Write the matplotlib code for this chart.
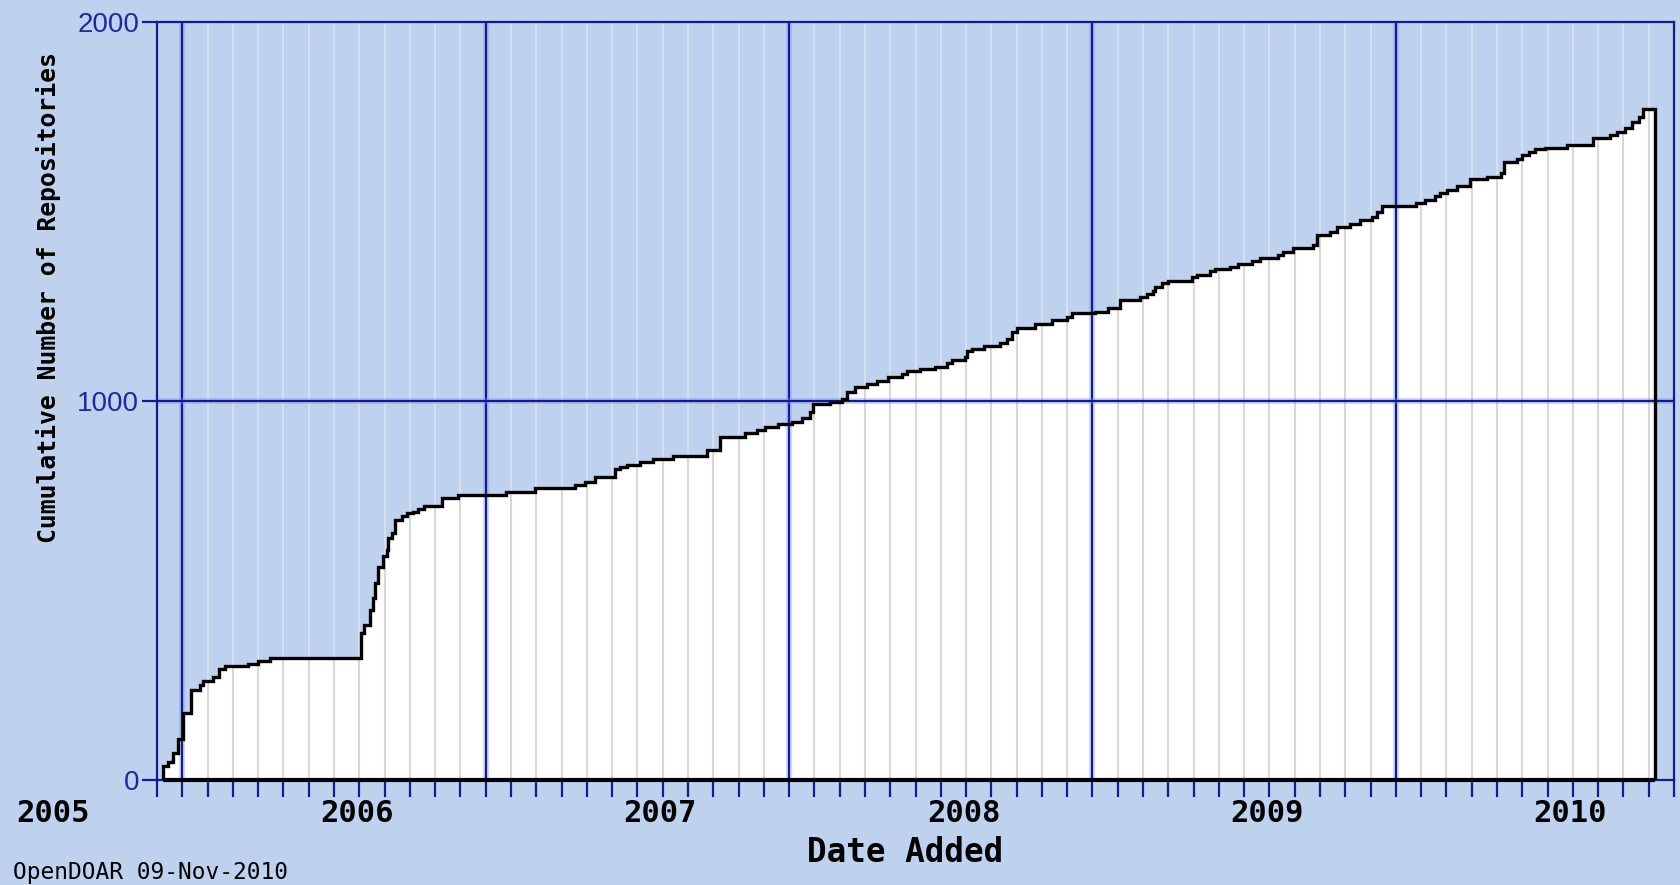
import matplotlib
matplotlib.use('Agg')
import matplotlib.pyplot as plt
import matplotlib.patheffects as pe
from matplotlib.transforms import blended_transform_factory

# ---- data: months since axis start (Jan 2005 at 0) and cumulative count from that point
step_month = [0.22, 0.45, 0.65, 0.84, 1.02, 1.34, 1.70, 1.83, 2.23, 2.45, 2.69, 3.61, 4.01, 4.47,
              8.06, 8.19, 8.43, 8.56, 8.62, 8.75, 8.93, 9.09, 9.15, 9.28, 9.41, 9.68, 9.90, 10.14,
              10.34, 10.57, 11.26, 11.92, 13.80, 14.95, 16.53, 16.93, 17.33, 18.12, 18.31, 18.58,
              19.11, 19.63, 20.42, 21.74, 22.27, 23.26, 23.72, 24.05, 24.58, 25.11, 25.50, 25.83,
              25.96, 26.62, 27.09, 27.28, 27.61, 28.07, 28.47, 28.93, 29.46, 29.66, 30.18, 30.78,
              31.24, 31.44, 31.96, 32.05, 32.23, 32.69, 33.35, 33.61, 33.81, 34.03, 34.73, 35.39,
              35.99, 36.18, 37.10, 37.63, 38.09, 38.88, 39.15, 39.41, 39.48, 39.74, 40.00, 40.93,
              41.13, 41.65, 41.85, 42.44, 42.77, 43.30, 43.63, 44.35, 44.55, 44.95, 45.74, 45.87,
              46.40, 46.66, 47.19, 47.58, 48.05, 48.24, 48.44, 49.80, 50.16, 50.55, 50.75, 51.02,
              51.42, 51.94, 52.62, 53.15, 53.28, 53.78, 53.98, 54.25, 54.51, 54.88, 55.76, 56.79,
              57.48, 57.74, 58.07, 58.33, 58.60, 58.79]
cum_count = [37, 48, 71, 108, 177, 237, 250, 261, 272, 292, 300, 307, 313, 321,
             387, 409, 448, 480, 519, 563, 590, 607, 638, 651, 686, 696, 703, 708,
             716, 723, 745, 753, 760, 769, 778, 787, 798, 820, 826, 831,
             839, 846, 854, 870, 904, 914, 923, 932, 938, 945, 955, 971,
             993, 998, 1004, 1024, 1037, 1044, 1053, 1062, 1071, 1079, 1084, 1090,
             1099, 1108, 1115, 1132, 1138, 1145, 1153, 1162, 1182, 1191, 1204, 1213,
             1222, 1231, 1235, 1244, 1266, 1275, 1282, 1290, 1301, 1311, 1316, 1327,
             1332, 1342, 1349, 1354, 1362, 1369, 1376, 1384, 1393, 1402, 1411, 1437,
             1446, 1459, 1466, 1477, 1486, 1499, 1514, 1522, 1531, 1540, 1547, 1556,
             1566, 1584, 1591, 1600, 1631, 1639, 1648, 1657, 1663, 1668, 1676, 1692,
             1701, 1710, 1719, 1736, 1749, 1771]
end_month = 59.24

year_labels = ['2005', '2006', '2007', '2008', '2009', '2010']
year_label_month = [-4.1, 7.9, 19.9, 31.9, 43.9, 55.9]
major_months = [1, 13, 25, 37, 49]
y_ticks = [0, 1000, 2000]
y_ticklabels = ['0', '1000', '2000']

BG = '#BED2EE'
NAVY = '#101C96'
TICKBLUE = '#1A2AA0'
W, H = 1680, 885

fig = plt.figure(figsize=(W / 100, H / 100), dpi=100, facecolor=BG)
ax = fig.add_axes([157 / W, 1 - 780 / H, (1674 - 157) / W, (780 - 21.7) / H])
ax.set_facecolor(BG)
ax.set_xlim(0, 60)
ax.set_ylim(0, 2000)

edges = step_month + [end_month]
fill = ax.stairs(cum_count, edges, baseline=0, fill=True,
                 facecolor='white', edgecolor='none', zorder=1)

# monthly light grid lines
for m in range(1, 60):
    if m in major_months:
        continue
    ax.axvline(m, color='#D4DFF0', lw=1.5, zorder=0.5)
    ln = ax.axvline(m, color='#D8D8D8', lw=1.5, zorder=2)
    ln.set_clip_path(fill)

halo = [pe.Stroke(linewidth=4.5, foreground='#8090F0', alpha=0.35), pe.Normal()]
for m in major_months:
    ax.axvline(m, color=NAVY, lw=1.6, zorder=3, path_effects=halo)
ax.axhline(1000, color=NAVY, lw=1.6, zorder=3, path_effects=halo)

outline = ax.stairs(cum_count, edges, baseline=0, fill=True,
                    facecolor='none', edgecolor='black', lw=2.4, zorder=4)
outline.set_joinstyle('miter')
# black baseline of the filled area
ax.hlines(0, edges[0], edges[-1], color='black', lw=3.0, zorder=4, clip_on=False)

for s in ax.spines.values():
    s.set_color(NAVY)
    s.set_linewidth(1.6)
    s.set_zorder(3.5)

ax.set_xticks(range(0, 61))
ax.tick_params(axis='x', direction='out', length=12.5, width=1.6, color=NAVY,
               labelbottom=False)
ax.set_yticks(y_ticks)
ax.set_yticklabels(y_ticklabels, fontfamily='Liberation Sans', fontsize=20, color=TICKBLUE)
ax.tick_params(axis='y', direction='out', length=10.8, width=1.6, color=NAVY, pad=2)

trans = blended_transform_factory(ax.transData, fig.transFigure)
for lab, m in zip(year_labels, year_label_month):
    ax.text(m, 1 - 814 / H, lab, transform=trans, ha='center', va='center',
            fontfamily='DejaVu Sans Mono', fontweight='bold', fontsize=22,
            color='black', clip_on=False)

fig.text(905 / W, 1 - 852 / H, 'Date Added', ha='center', va='center',
         fontfamily='DejaVu Sans Mono', fontweight='bold', fontsize=23.5, color='black')
fig.text(48.5 / W, 1 - 297.5 / H, 'Cumulative Number of Repositories', rotation=90,
         ha='center', va='center', fontfamily='DejaVu Sans Mono', fontweight='bold',
         fontsize=17.8, color='black')
fig.text(13 / W, 1 - 872 / H, 'OpenDOAR 09-Nov-2010', ha='left', va='center',
         fontfamily='DejaVu Sans Mono', fontsize=16.5, color='black')

fig.savefig('out.png', dpi=100, facecolor=BG)
